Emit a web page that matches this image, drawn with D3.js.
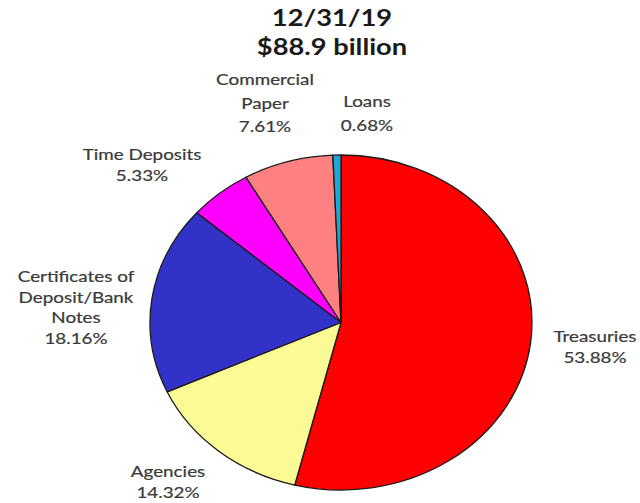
<!DOCTYPE html>
<html>
<head>
<meta charset="utf-8">
<script src="https://cdn.jsdelivr.net/npm/d3@7"></script>
<style>
  html, body { margin: 0; padding: 0; background: #fff; }
  svg { display: block; }
</style>
</head>
<body>
<svg id="chart" width="640" height="503"></svg>
<script>
// Portfolio composition at year end
const categories = ["Treasuries", "Agencies", "Certificates of Deposit/Bank Notes", "Time Deposits", "Commercial Paper", "Loans"];
const shares = [53.88, 14.32, 18.16, 5.33, 7.61, 0.68];
const colors = ["#ff0000", "#fbfb96", "#3232c8", "#ff00ff", "#ff8080", "#1ea6d6"];
const labelLines = [
  ["Treasuries"],
  ["Agencies"],
  ["Certificates of", "Deposit/Bank", "Notes"],
  ["Time Deposits"],
  ["Commercial", "Paper"],
  ["Loans"]
];
const titleLines = ["12/31/19", "$88.9 billion"];

const svg = d3.select("#chart");

// Pie geometry: drawn on a circle and stretched horizontally into an ellipse
const cx = 341, cy = 322.5, rx = 191, ry = 167.5;

const pie = d3.pie().sort(null).value(d => d.v);
const arcs = pie(categories.map((c, i) => ({ c, v: shares[i], i })));
const arc = d3.arc().innerRadius(0).outerRadius(ry);

const g = svg.append("g")
  .attr("transform", `translate(${cx},${cy}) scale(${rx / ry},1)`);

g.selectAll("path.slice")
  .data(arcs)
  .join("path")
  .attr("class", "slice")
  .attr("d", arc)
  .attr("fill", d => colors[d.data.i])
  .attr("stroke", "#1a1a1a")
  .attr("stroke-width", 1.3)
  .attr("stroke-linejoin", "round")
  .attr("vector-effect", "non-scaling-stroke");

const font = "Lato, 'Open Sans', sans-serif";

// Titles (set wide, like the rest of the figure)
const titleY = [26, 55];
titleLines.forEach((t, i) => {
  svg.append("g")
    .attr("transform", `translate(332,${titleY[i]}) scale(1.24,1)`)
    .append("text")
    .attr("text-anchor", "middle")
    .attr("font-family", font)
    .attr("font-weight", "bold")
    .attr("font-size", 22)
    .attr("fill", "#1a1a1a")
    .text(t);
});

// Slice labels: name lines followed by the share
const labelPos = [
  { x: 595, y: 337 },
  { x: 168, y: 472 },
  { x: 76, y: 277 },
  { x: 142, y: 155 },
  { x: 265, y: 80 },
  { x: 367, y: 102 }
];
const lh = 20.5;
const fmt = d3.format(".2f");
arcs.forEach(a => {
  const i = a.data.i;
  const lines = labelLines[i].concat([fmt(shares[i]) + "%"]);
  const step = (i === 4 || i === 5) ? 23.5 : lh;
  const t = svg.append("g")
    .attr("transform", `translate(${labelPos[i].x},${labelPos[i].y}) scale(1.3,1)`)
    .append("text")
    .attr("text-anchor", "middle")
    .attr("font-family", font)
    .attr("font-size", 14.5)
    .attr("fill", "#3a3a3a")
    .attr("stroke", "#3a3a3a")
    .attr("stroke-width", 0.2);
  lines.forEach((ln, k) => {
    t.append("tspan")
      .attr("x", 0)
      .attr("y", k * step)
      .attr("dy", "0.35em")
      .text(ln);
  });
});
</script>
</body>
</html>
